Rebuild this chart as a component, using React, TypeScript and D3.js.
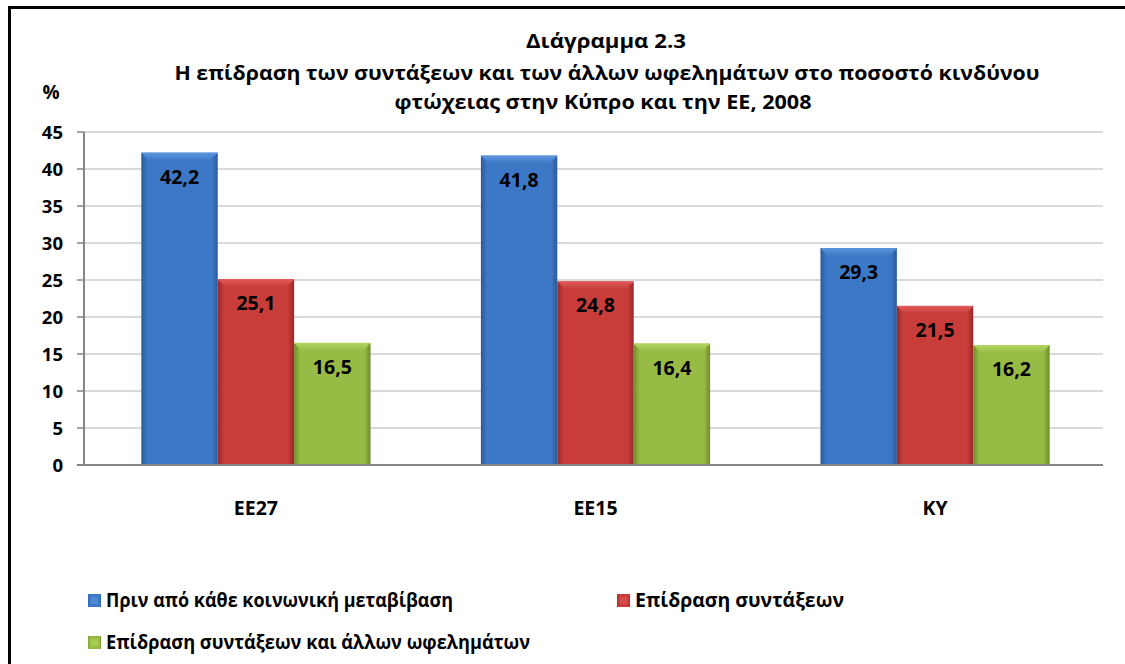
import React from "react";
import * as d3 from "d3";

const categories = ["EE27", "EE15", "KY"];
const seriesNames = [
  "Πριν από κάθε κοινωνική μεταβίβαση",
  "Επίδραση συντάξεων",
  "Επίδραση συντάξεων και άλλων ωφελημάτων",
];
const beforeTransfers = [42.2, 41.8, 29.3];
const pensionsEffect = [25.1, 24.8, 21.5];
const pensionsOtherEffect = [16.5, 16.4, 16.2];
const yTicks = [0, 5, 10, 15, 20, 25, 30, 35, 40, 45];
const titleLines = [
  "Διάγραμμα 2.3",
  "Η επίδραση των συντάξεων και των άλλων ωφελημάτων στο ποσοστό κινδύνου",
  "φτώχειας στην Κύπρο και την ΕΕ, 2008",
];

const palette = [
  { light: "#5a95dc", mid: "#3d78c6", dark: "#2b5a98" },
  { light: "#e05a58", mid: "#c83c3a", dark: "#962a28" },
  { light: "#b2d561", mid: "#98bb46", dark: "#6e8c2c" },
];

const FONT = "'Open Sans', 'Noto Sans', sans-serif";

export default function App() {
  const W = 1125, H = 664;
  const left = 84, right = 1103, top = 132, bottom = 465;
  const x0 = d3.scaleBand<string>().domain(categories).range([left + 3, right + 1]).paddingInner(0.325).paddingOuter(0.16);
  const x1 = d3.scaleBand<number>().domain([0, 1, 2]).range([0, x0.bandwidth()]).padding(0);
  const y = d3.scaleLinear().domain([0, 45]).range([bottom, top]);
  const series = [beforeTransfers, pensionsEffect, pensionsOtherEffect];
  const fmt = (v: number) => v.toFixed(1).replace(".", ",");
  const titleY = [48, 80, 109];
  const titleW = [160, 865, 417];
  const titleX = [606, 607, 603];
  const legendW = [347, 209, 424];

  return (
    <svg width={W} height={H} style={{ position: "absolute", left: 0, top: 0, fontFamily: FONT }}>
      <defs>
        {palette.map((p, i) => (
          <linearGradient key={i} id={`g${i}`} x1="0" x2="1" y1="0" y2="0">
            <stop offset="0" stopColor={p.dark} />
            <stop offset="0.08" stopColor={p.mid} />
            <stop offset="0.5" stopColor={p.mid} />
            <stop offset="0.92" stopColor={p.mid} />
            <stop offset="1" stopColor={p.dark} />
          </linearGradient>
        ))}
        {palette.map((p, i) => (
          <linearGradient key={`v${i}`} id={`v${i}`} x1="0" x2="0" y1="0" y2="1">
            <stop offset="0" stopColor={p.light} />
            <stop offset="1" stopColor={p.mid} />
          </linearGradient>
        ))}
      </defs>
      <rect x={0} y={0} width={W} height={H} fill="#fff" />
      <rect x={9.5} y={7.5} width={1140} height={700} fill="none" stroke="#000" strokeWidth={3} />

      {titleLines.map((t, i) => (
        <text key={i} x={titleX[i]} y={titleY[i]} textAnchor="middle" fontSize={19} fontWeight="bold" fill="#000"
          textLength={titleW[i]} lengthAdjust="spacingAndGlyphs">
          {t}
        </text>
      ))}
      <text x={51} y={99} textAnchor="middle" fontSize={19} fontWeight="bold">%</text>

      {yTicks.map((t) => (
        <g key={t}>
          {t > 0 && <line x1={left} x2={right} y1={y(t)} y2={y(t)} stroke="#d9d9d9" strokeWidth={2} />}
          <line x1={left - 7} x2={left} y1={y(t)} y2={y(t)} stroke="#868686" strokeWidth={1.5} />
          <text x={63} y={y(t) + 6.5} textAnchor="end" fontSize={18.5} fontWeight="bold">{t}</text>
        </g>
      ))}
      <line x1={left} x2={left} y1={top} y2={bottom} stroke="#868686" strokeWidth={2} />

      {categories.map((c, ci) => (
        <g key={c}>
          {series.map((s, si) => {
            const bx = (x0(c) as number) + (x1(si) as number);
            const bw = x1.bandwidth();
            const by = y(s[ci]);
            const bh = bottom - by;
            const p = palette[si];
            const bev = 8;
            return (
              <g key={si}>
                <rect x={bx} y={by} width={bw} height={bh} fill={`url(#g${si})`} />
                <polygon
                  points={`${bx},${by} ${bx + bw},${by} ${bx + bw - bev},${by + bev} ${bx + bev},${by + bev}`}
                  fill={`url(#v${si})`}
                />
                <line x1={bx} x2={bx + bw} y1={by + 0.5} y2={by + 0.5} stroke={p.light} strokeWidth={1} />
                <text x={bx + bw / 2} y={by + 31} textAnchor="middle" fontSize={19.5} fontWeight="bold" fill="#000">
                  {fmt(s[ci])}
                </text>
              </g>
            );
          })}
          <text x={(x0(c) as number) + x0.bandwidth() / 2} y={515} textAnchor="middle" fontSize={19.5} fontWeight="bold">
            {c}
          </text>
        </g>
      ))}
      <line x1={left - 7} x2={right} y1={bottom} y2={bottom} stroke="#868686" strokeWidth={2} />

      {[
        { x: 88, y: 594 },
        { x: 617, y: 594 },
        { x: 88, y: 636 },
      ].map((pos, i) => (
        <g key={i}>
          <rect x={pos.x} y={pos.y} width={13} height={13} fill={`url(#g${i})`} />
          <rect x={pos.x + 3} y={pos.y + 3} width={7} height={7} fill={palette[i].light} opacity={0.6} />
          <text x={pos.x + 18} y={pos.y + 13} fontSize={19} fontWeight="bold"
            textLength={legendW[i]} lengthAdjust="spacingAndGlyphs">{seriesNames[i]}</text>
        </g>
      ))}
    </svg>
  );
}
